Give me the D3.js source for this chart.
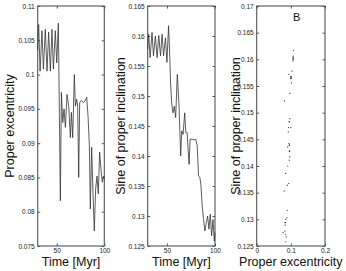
<!DOCTYPE html>
<html>
<head>
<meta charset="utf-8">
<script src="https://cdn.jsdelivr.net/npm/d3@7"></script>
<style>
  body { margin: 0; background: #fff; }
  svg { display: block; font-family: "Liberation Sans", Arial, sans-serif; }
</style>
</head>
<body>
<svg id="svg" width="346" height="271"></svg>
<script>
// --- Data ------------------------------------------------------------------
const time = [30, 31, 32.5, 34.5, 36, 38, 39.8, 41.5, 43.3, 45, 46.5, 48.5, 50, 51.7, 52.8, 53.8,
  54.9, 56.3, 57.7, 59.1, 60.8, 62.6, 64.3, 65.4, 66.8, 68.5, 69.6, 71, 72, 73.1, 74.1, 75.9,
  78, 80, 81.5, 82.9, 84.3, 85.3, 86.7, 88.1, 89.5, 90.9, 92.3, 93.7, 95.1, 96.5, 97.9, 99.3, 100];
const eccentricity = [0.1035, 0.1073, 0.1005, 0.1064, 0.1008, 0.1066, 0.1005, 0.1062, 0.1005, 0.1066,
  0.1008, 0.1064, 0.1017, 0.1075, 0.094, 0.0816, 0.0974, 0.093, 0.095, 0.0923, 0.0971, 0.0954,
  0.0908, 0.0945, 0.0908, 0.1, 0.0954, 0.0964, 0.0954, 0.085, 0.0959, 0.0962, 0.0959, 0.0962,
  0.0967, 0.094, 0.0896, 0.0804, 0.0894, 0.0828, 0.0772, 0.0833, 0.0852, 0.0826, 0.0887, 0.0862,
  0.0843, 0.0852, 0.0848];
const sinInclination = [0.1578, 0.1603, 0.1564, 0.1606, 0.1567, 0.16, 0.1564, 0.1601, 0.1567, 0.1603,
  0.1567, 0.1597, 0.1556, 0.1617, 0.1572, 0.1522, 0.1489, 0.1472, 0.1483, 0.1464, 0.1536, 0.1483,
  0.14, 0.1442, 0.1436, 0.1472, 0.1439, 0.1439, 0.1411, 0.1386, 0.1428, 0.1428, 0.1427, 0.1428,
  0.1417, 0.1367, 0.1364, 0.1353, 0.1317, 0.1294, 0.1275, 0.1289, 0.13, 0.1278, 0.1303, 0.1267,
  0.1294, 0.1258, 0.1272];

const timeTicks = [50, 100];
const eTicks = [0.075, 0.08, 0.085, 0.09, 0.095, 0.1, 0.105, 0.11];
const sinTicks = [0.125, 0.13, 0.135, 0.14, 0.145, 0.15, 0.155, 0.16, 0.165];
const sinTicksB = [0.125, 0.13, 0.135, 0.14, 0.145, 0.15, 0.155, 0.16, 0.165, 0.17];
const eTicksB = [0, 0.1, 0.2];

// --- Layout ----------------------------------------------------------------
const svg = d3.select("#svg");
const yTop = 6, yBottom = 246;
const fmt = v => String(+v.toFixed(3));
const frame = "#555";

function panel(o) {
  const g = svg.append("g");
  const x = d3.scaleLinear().domain(o.xDomain).range([o.left, o.right]);
  const y = d3.scaleLinear().domain(o.yDomain).range([yBottom, yTop]);

  const style = sel => {
    sel.select(".domain").remove();
    sel.selectAll("line").attr("stroke", frame);
    sel.selectAll("text").attr("font-size", 6.5).attr("fill", "#222");
  };
  g.append("g").attr("transform", `translate(${o.left},0)`)
    .call(d3.axisLeft(y).tickValues(o.yTicks).tickFormat(fmt).tickSize(-2.5).tickPadding(3))
    .call(style);
  g.append("g").attr("transform", `translate(${o.right},0)`)
    .call(d3.axisRight(y).tickValues(o.yTicks).tickFormat("").tickSize(-2.5))
    .call(style);
  g.append("g").attr("transform", `translate(0,${yBottom})`)
    .call(d3.axisBottom(x).tickValues(o.xTicks).tickFormat(fmt).tickSize(-2.5).tickPadding(2))
    .call(style);
  g.append("g").attr("transform", `translate(0,${yTop})`)
    .call(d3.axisTop(x).tickValues(o.xTicks).tickFormat("").tickSize(-2.5))
    .call(style);

  g.append("rect")
    .attr("x", o.left).attr("y", yTop)
    .attr("width", o.right - o.left).attr("height", yBottom - yTop)
    .attr("fill", "none").attr("stroke", frame).attr("stroke-width", 1.1);

  g.append("text")
    .attr("x", (o.left + o.right) / 2).attr("y", 266)
    .attr("text-anchor", "middle").attr("font-size", 12.5).attr("fill", "#111")
    .text(o.xLabel);
  g.append("text")
    .attr("transform", `translate(${o.labelX},${(yTop + yBottom) / 2}) rotate(-90)`)
    .attr("text-anchor", "middle").attr("dominant-baseline", "central")
    .attr("font-size", 12.5).attr("fill", "#111")
    .text(o.yLabel);
  return { g, x, y };
}

// Panel 1: eccentricity vs time
const p1 = panel({ left: 37.7, right: 104.3, xDomain: [30, 100], yDomain: [0.075, 0.11],
  xTicks: timeTicks, yTicks: eTicks, xLabel: "Time [Myr]", yLabel: "Proper excentricity", labelX: 10 });
p1.g.append("path")
  .datum(d3.zip(time, eccentricity))
  .attr("fill", "none").attr("stroke", "#333").attr("stroke-width", 0.8)
  .attr("d", d3.line().x(d => p1.x(d[0])).y(d => p1.y(d[1])));

// Panel 2: sin(i) vs time
const p2 = panel({ left: 147.7, right: 215, xDomain: [30, 100], yDomain: [0.125, 0.165],
  xTicks: timeTicks, yTicks: sinTicks, xLabel: "Time [Myr]", yLabel: "Sine of proper inclination", labelX: 121 });
p2.g.append("path")
  .datum(d3.zip(time, sinInclination))
  .attr("fill", "none").attr("stroke", "#333").attr("stroke-width", 0.8)
  .attr("d", d3.line().x(d => p2.x(d[0])).y(d => p2.y(d[1])));

// Panel 3: sin(i) vs e
const p3 = panel({ left: 256.7, right: 325, xDomain: [0, 0.2], yDomain: [0.125, 0.17],
  xTicks: eTicksB, yTicks: sinTicksB, xLabel: "Proper excentricity", yLabel: "Sine of proper inclination", labelX: 236 });
p3.g.append("g").selectAll("circle")
  .data(d3.zip(eccentricity, sinInclination)).enter()
  .append("circle")
  .attr("cx", d => p3.x(d[0])).attr("cy", d => p3.y(d[1]))
  .attr("r", 0.6).attr("fill", "#222");
p3.g.append("text")
  .attr("x", p3.x(0.117)).attr("y", p3.y(0.1679))
  .attr("text-anchor", "middle").attr("dominant-baseline", "central")
  .attr("font-size", 11).attr("fill", "#111")
  .text("B");
</script>
</body>
</html>
